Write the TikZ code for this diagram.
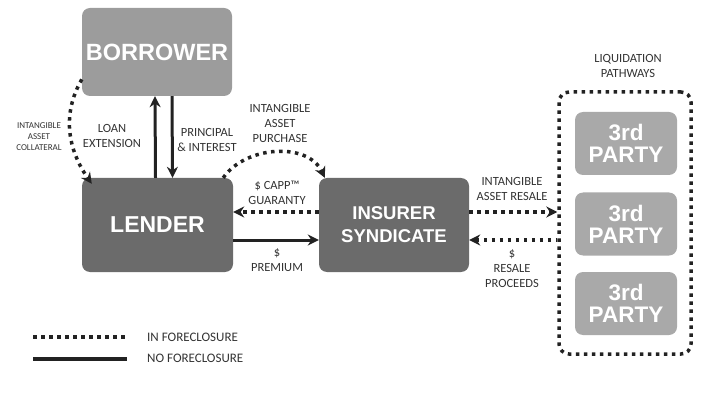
\documentclass[tikz,border=0pt]{standalone}
\usepackage{xcolor}
\usepackage{fontspec}
\setmainfont{Carlito}
\newfontfamily\boxfont{Liberation Sans}
\usepackage{tikz}
\usetikzlibrary{arrows.meta}
\definecolor{boxlight}{HTML}{9C9C9C}
\definecolor{boxdark}{HTML}{6B6B6B}
\definecolor{boxparty}{HTML}{A9A9A9}
\definecolor{inkdark}{HTML}{222222}
\definecolor{inktext}{HTML}{333333}
\tikzstyle{box_l} = [rectangle, rounded corners=8pt, fill=boxlight, text=white, font=\boxfont\bfseries\fontsize{23.5}{24}\selectfont, align=center, inner sep=0pt]
\tikzstyle{box_d} = [rectangle, rounded corners=8pt, fill=boxdark, text=white, font=\boxfont\bfseries\fontsize{23}{24}\selectfont, align=center, inner sep=0pt]
\tikzstyle{box_p} = [rectangle, rounded corners=8pt, fill=boxparty, text=white, font=\boxfont\bfseries\fontsize{22.5}{22}\selectfont, align=center, inner sep=0pt, minimum width=102pt, minimum height=63pt]
\tikzstyle{box_o} = [rectangle, rounded corners=10pt, draw=inkdark, line width=3.5pt, dash pattern=on 3.5pt off 4.5pt, inner sep=0pt]
\tikzstyle{line_d} = [draw=inkdark, line width=3.5pt, dash pattern=on 3.5pt off 4.5pt]
\tikzstyle{line_s} = [draw=inkdark, line width=3pt]
\tikzstyle{txt_l} = [text=inktext, font=\fontsize{12.5}{15}\selectfont, align=center, inner sep=0pt]
\tikzstyle{txt_s} = [text=inktext, font=\fontsize{9}{11}\selectfont, align=center, inner sep=0pt]

\begin{document}
\begin{tikzpicture}[x=1pt,y=-1pt,>={Stealth[length=11pt,width=11pt]}]
\useasboundingbox (0,0) rectangle (701,406);
\node [box_l, minimum width=150pt, minimum height=88pt] (borrower) at (157,52) {BORROWER};
\node [box_d, minimum width=151pt, minimum height=94pt] (lender) at (157.5,225) {LENDER};
\node [box_d, minimum width=150pt, minimum height=94pt, font=\boxfont\bfseries\fontsize{18.5}{23}\selectfont] (insurer) at (394,225) {INSURER\\SYNDICATE};
\node [box_o, minimum width=132pt, minimum height=262pt] (liquid) at (625,223) {};
\node [box_p] (party 1) at (626,143.5) {3rd\\PARTY};
\node [box_p] (party 2) at (626,224) {3rd\\PARTY};
\node [box_p] (party 3) at (626,303.5) {3rd\\PARTY};

\node [txt_s] (collateral) at (39,137) {INTANGIBLE\\ASSET\\COLLATERAL};
\node [txt_l] (loan) at (112,136) {LOAN\\EXTENSION};
\node [txt_l] (principal) at (207,140) {PRINCIPAL\\\& INTEREST};
\node [txt_l] (purchase) at (280,123) {INTANGIBLE\\ASSET\\PURCHASE};
\node [txt_l] (guaranty) at (277,193) {\$ CAPP™\\GUARANTY};
\node [txt_l] (premium) at (277,260) {\$\\PREMIUM};
\node [txt_l] (resale) at (512,189) {INTANGIBLE\\ASSET RESALE};
\node [txt_l] (proceeds) at (512,269) {\$\\RESALE\\PROCEEDS};
\node [txt_l] (pathways) at (628,66) {LIQUIDATION\\PATHWAYS};

\draw [line_s,->] ([xshift=-2pt]lender.north) -- ([xshift=-2pt]borrower.south);
\draw [line_s,->] ([xshift=15pt]borrower.south) -- ([xshift=15pt]lender.north);
\draw [line_d,->] (borrower.200) to[out=240,in=125] ([xshift=10pt,yshift=-6pt]lender.north west);
\draw [line_d,->] ([xshift=-10pt]lender.north east) to[out=55,in=115] ([xshift=6pt]insurer.north west);
\draw [line_d,->] ([yshift=13pt]insurer.west) -- ([yshift=13pt]lender.east);
\draw [line_s,->] ([yshift=-15pt]lender.east) -- ([yshift=-15pt]insurer.west);
\coordinate (resale a) at ([yshift=13pt]insurer.east);
\coordinate (proceeds a) at ([yshift=-15pt]insurer.east);
\draw [line_d,->] (resale a) -- (resale a -| liquid.west);
\draw [line_d,<-] (proceeds a) -- (proceeds a -| liquid.west);

\coordinate (legend d1) at (33,337);
\coordinate (legend d2) at (127,337);
\coordinate (legend s1) at (33,359);
\coordinate (legend s2) at (127,359);
\draw [line_d] (legend d1) -- (legend d2);
\draw [line_s, line width=4pt] (legend s1) -- (legend s2);
\node [txt_l, anchor=west, font=\fontsize{13}{15}\selectfont] (legend dt) at (147,337) {IN FORECLOSURE};
\node [txt_l, anchor=west, font=\fontsize{13}{15}\selectfont] (legend st) at (147,358) {NO FORECLOSURE};
\end{tikzpicture}
\end{document}
